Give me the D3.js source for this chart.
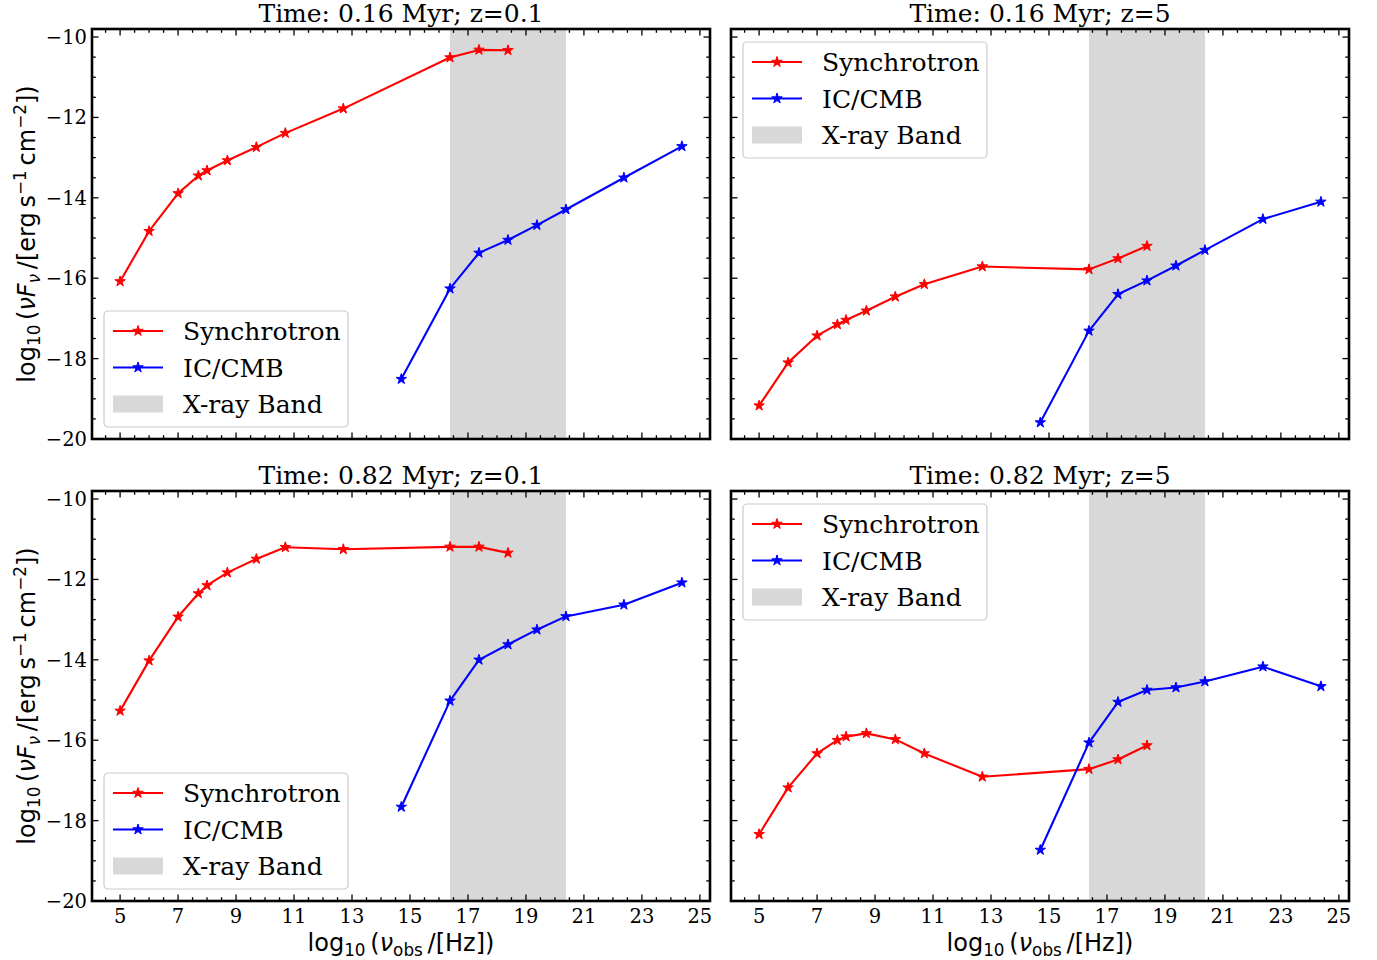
<!DOCTYPE html>
<html>
<head>
<meta charset="utf-8">
<script src="https://cdn.jsdelivr.net/npm/d3@7"></script>
<style>
  html, body { margin: 0; padding: 0; background: #fff; }
  svg { display: block; }
</style>
</head>
<body>
<svg id="chart" width="1377" height="960"></svg>
<script>
// ---------------- DATA ----------------
const xSync = [5, 6, 7, 7.7, 8, 8.7, 9.7, 10.7, 12.7, 16.38, 17.38, 18.38];
const xIC   = [14.7, 16.38, 17.38, 18.38, 19.38, 20.38, 22.38, 24.38];

const syncA = [-16.08, -14.83, -13.89, -13.45, -13.32, -13.07, -12.74, -12.39, -11.78, -10.51, -10.32, -10.33];
const icA   = [-18.51, -16.26, -15.37, -15.05, -14.68, -14.29, -13.50, -12.72];

const syncB = [-19.17, -18.10, -17.43, -17.15, -17.04, -16.81, -16.46, -16.15, -15.71, -15.78, -15.51, -15.20];
const icB   = [-19.59, -17.31, -16.40, -16.06, -15.69, -15.30, -14.53, -14.10];

const syncC = [-15.27, -14.02, -12.93, -12.35, -12.15, -11.83, -11.49, -11.20, -11.25, -11.19, -11.19, -11.34];
const icC   = [-17.66, -15.02, -14.00, -13.62, -13.25, -12.92, -12.63, -12.08];

const syncD = [-18.34, -17.18, -16.33, -16.00, -15.91, -15.83, -15.98, -16.33, -16.91, -16.72, -16.48, -16.13];
const icD   = [-18.73, -16.06, -15.05, -14.75, -14.69, -14.54, -14.17, -14.66];

const titles = ["Time: 0.16 Myr; z=0.1", "Time: 0.16 Myr; z=5", "Time: 0.82 Myr; z=0.1", "Time: 0.82 Myr; z=5"];
const xrayBand = [16.38, 20.38];
const xTicks = [5, 7, 9, 11, 13, 15, 17, 19, 21, 23, 25];
const yTicks = [-20, -18, -16, -14, -12, -10];
const legendLabels = ["Synchrotron", "IC/CMB", "X-ray Band"];
const xDomain = [4.031, 25.349];
const yDomain = [-20, -9.8];

// ---------------- LAYOUT ----------------
const W = 618, H = 410;
const panels = [
  { x0: 92,  y0: 29,  sync: syncA, ic: icA, title: titles[0], legend: "lower", left: true,  bottom: false },
  { x0: 731, y0: 29,  sync: syncB, ic: icB, title: titles[1], legend: "upper", left: false, bottom: false },
  { x0: 92,  y0: 491, sync: syncC, ic: icC, title: titles[2], legend: "lower", left: true,  bottom: true },
  { x0: 731, y0: 491, sync: syncD, ic: icD, title: titles[3], legend: "upper", left: false, bottom: true }
];

const RED = "#ff0000", BLUE = "#0000ff", BAND = "#d8d8d8";
const SERIF = "'DejaVu Serif', serif";
const SANS = "'DejaVu Sans', sans-serif";

const svg = d3.select("#chart");
const star = d3.symbol().type(d3.symbolStar).size(34);

function mathText(sel, parts, size) {
  let shift = 0;
  parts.forEach(([t, s]) => {
    const ts = sel.append("tspan").text(t);
    let target = 0;
    if (s === "sub" || s === "subi") { target = size * 0.22; ts.attr("font-size", size * 0.7); }
    else if (s === "sup") { target = -size * 0.38; ts.attr("font-size", size * 0.7); }
    if (s === "i" || s === "subi") ts.attr("font-style", "italic");
    const dy = target - shift;
    if (dy !== 0) ts.attr("dy", dy);
    shift = target;
  });
}

panels.forEach(p => {
  const x = d3.scaleLinear().domain(xDomain).range([p.x0, p.x0 + W]);
  const y = d3.scaleLinear().domain(yDomain).range([p.y0 + H, p.y0]);
  const g = svg.append("g");

  g.append("rect")
    .attr("x", x(xrayBand[0])).attr("y", p.y0)
    .attr("width", x(xrayBand[1]) - x(xrayBand[0])).attr("height", H)
    .attr("fill", BAND);

  const line = d3.line().x(d => x(d[0])).y(d => y(d[1]));
  [[xSync, p.sync, RED], [xIC, p.ic, BLUE]].forEach(([xs, ys, c]) => {
    const pts = xs.map((v, i) => [v, ys[i]]);
    g.append("path").datum(pts).attr("d", line)
      .attr("fill", "none").attr("stroke", c).attr("stroke-width", 2.1)
      .attr("stroke-linejoin", "round");
    g.selectAll(null).data(pts).enter().append("path")
      .attr("d", star)
      .attr("transform", d => `translate(${x(d[0])},${y(d[1])})`)
      .attr("fill", c).attr("stroke", c).attr("stroke-width", 1);
  });

  const ax = g.append("g").attr("stroke", "#000");
  const xMinor = d3.range(4.5, 25.01, 0.5).filter(v => v >= xDomain[0] && v <= xDomain[1]);
  const yMinor = d3.range(-20, -9.79, 0.5);
  xMinor.forEach(v => {
    const major = xTicks.includes(v);
    const L = major ? 6.5 : 3.8;
    ax.append("line").attr("x1", x(v)).attr("x2", x(v)).attr("y1", p.y0 + H).attr("y2", p.y0 + H - L).attr("stroke-width", 1.3);
    ax.append("line").attr("x1", x(v)).attr("x2", x(v)).attr("y1", p.y0).attr("y2", p.y0 + L).attr("stroke-width", 1.3);
  });
  yMinor.forEach(v => {
    const major = yTicks.includes(v);
    const L = major ? 6.5 : 3.8;
    ax.append("line").attr("y1", y(v)).attr("y2", y(v)).attr("x1", p.x0).attr("x2", p.x0 + L).attr("stroke-width", 1.3);
    ax.append("line").attr("y1", y(v)).attr("y2", y(v)).attr("x1", p.x0 + W).attr("x2", p.x0 + W - L).attr("stroke-width", 1.3);
  });

  g.append("rect").attr("x", p.x0).attr("y", p.y0).attr("width", W).attr("height", H)
    .attr("fill", "none").attr("stroke", "#000").attr("stroke-width", 2.6);

  if (p.left) {
    g.selectAll(null).data(yTicks).enter().append("text")
      .attr("x", p.x0 - 5).attr("y", d => y(d) + 7)
      .attr("text-anchor", "end").attr("font-family", SERIF).attr("font-size", 19.5)
      .text(d => d3.format("d")(d).replace("-", "\u2212"));
  }
  if (p.bottom) {
    g.selectAll(null).data(xTicks).enter().append("text")
      .attr("x", d => x(d)).attr("y", p.y0 + H + 22)
      .attr("text-anchor", "middle").attr("font-family", SERIF).attr("font-size", 19.5)
      .text(d => d);
  }

  g.append("text").attr("x", p.x0 + W / 2).attr("y", p.y0 - 7)
    .attr("text-anchor", "middle").attr("font-family", SERIF).attr("font-size", 25)
    .text(p.title);

  if (p.left) {
    const t = g.append("text")
      .attr("transform", `translate(${p.x0 - 57},${p.y0 + H / 2}) rotate(-90)`)
      .attr("text-anchor", "middle").attr("font-family", SANS).attr("font-size", 24);
    mathText(t, [["log", "n"], ["10", "sub"], ["\u2009(", "n"], ["\u03BDF", "i"], ["\u03BD", "subi"],
      ["\u2009/[erg\u2009s", "n"], ["\u22121", "sup"], ["\u2009cm", "n"], ["\u22122", "sup"], ["])", "n"]], 24);
  }
  if (p.bottom) {
    const t = g.append("text")
      .attr("x", p.x0 + W / 2).attr("y", p.y0 + H + 50)
      .attr("text-anchor", "middle").attr("font-family", SANS).attr("font-size", 24);
    mathText(t, [["log", "n"], ["10", "sub"], ["\u2009(", "n"], ["\u03BD", "i"], ["obs", "sub"],
      ["\u2009/[Hz])", "n"]], 24);
  }

  const LW = 244, LH = 116;
  const lx = p.x0 + 12;
  const ly = p.legend === "lower" ? p.y0 + H - 12 - LH : p.y0 + 13;
  const lg = g.append("g");
  lg.append("rect").attr("x", lx).attr("y", ly).attr("width", LW).attr("height", LH)
    .attr("rx", 4).attr("fill", "#fff").attr("fill-opacity", 0.8)
    .attr("stroke", "#cccccc").attr("stroke-width", 1.2);
  legendLabels.forEach((lab, i) => {
    const cy = ly + 20 + i * 36.5;
    if (i < 2) {
      const c = i === 0 ? RED : BLUE;
      lg.append("line").attr("x1", lx + 9).attr("x2", lx + 59).attr("y1", cy).attr("y2", cy)
        .attr("stroke", c).attr("stroke-width", 2.1);
      lg.append("path").attr("d", star).attr("transform", `translate(${lx + 34},${cy})`)
        .attr("fill", c).attr("stroke", c).attr("stroke-width", 1);
    } else {
      lg.append("rect").attr("x", lx + 9).attr("y", cy - 8.5).attr("width", 50).attr("height", 17)
        .attr("fill", BAND);
    }
    lg.append("text").attr("x", lx + 79).attr("y", cy + 9)
      .attr("font-family", SERIF).attr("font-size", 25).text(lab);
  });
});
</script>
</body>
</html>
